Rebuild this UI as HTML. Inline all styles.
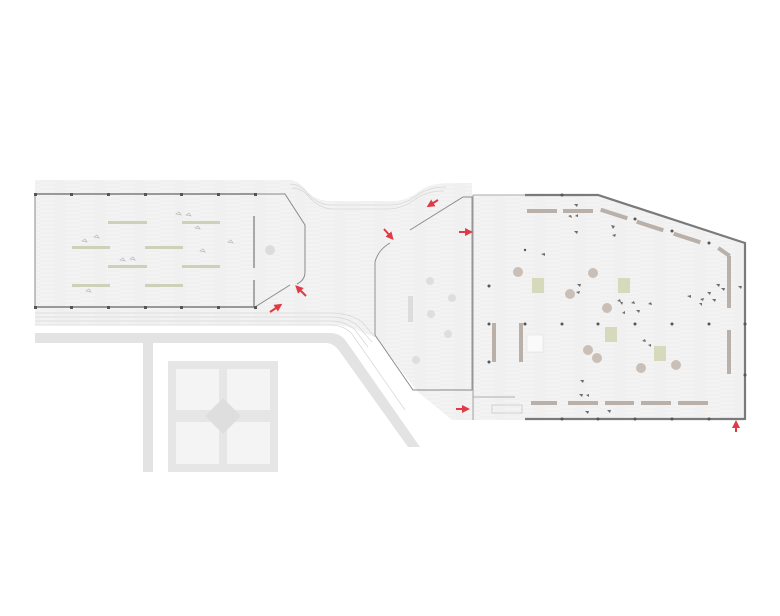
<!DOCTYPE html>
<html><head><meta charset="utf-8"><style>html,body{margin:0;padding:0;background:#fff}svg{display:block}</style></head>
<body>
<svg width="780" height="616" viewBox="0 0 780 616" xmlns="http://www.w3.org/2000/svg">
<defs>
<pattern id="tx" width="40" height="4" patternUnits="userSpaceOnUse">
<rect width="40" height="4" fill="#f3f3f3"/><line x1="0" y1="1" x2="25" y2="1" stroke="#e6e6e6" stroke-width="0.6"/><line x1="15" y1="3" x2="40" y2="3" stroke="#e9e9e9" stroke-width="0.6"/>
</pattern>
<marker id="ah" viewBox="0 0 10 10" refX="5" refY="5" markerWidth="4" markerHeight="4" orient="auto"><path d="M0,0L10,5L0,10z" fill="#e03a46"/></marker>
</defs>
<!-- road -->
<path d="M35,333 H330 Q340,333 346,341 L420,447 H408 L340,352 Q334,343 326,343 H153 V472 H143 V343 H35Z" fill="#e3e3e3"/>
<!-- block -->
<rect x="168" y="361" width="110" height="111" fill="#e6e6e6"/>
<g fill="#f4f4f4">
<rect x="176" y="369" width="43" height="41"/><rect x="227" y="369" width="43" height="41"/>
<rect x="176" y="422" width="43" height="42"/><rect x="227" y="422" width="43" height="42"/>
</g>
<path d="M223 398 L241 416 L223 434 L205 416Z" fill="#dedede"/>
<!-- paving -->
<path d="M35,180 H288 Q298,180 306,190 Q316,201 330,201 H392 Q406,201 418,192 Q430,183 448,183 H472 V420 H452 L418,392 L375,337 L352,328 L340,325 H35Z" fill="url(#tx)"/>
<g fill="none" stroke="#d6d6d6" stroke-width="0.7">
<path d="M290,184 Q300,184 308,194 Q318,205 332,205 H390 Q404,205 416,196 Q428,187 446,187"/>
<path d="M292,188 Q302,188 310,198 Q320,209 334,209 H388 Q402,209 414,200 Q426,191 444,191"/>
<path d="M35,313 H330 Q350,313 362,322 L375,337"/>
<path d="M35,317 H330 Q348,317 358,326 L372,342"/>
<path d="M35,321 H330 Q346,321 355,330 L368,347"/>
<path d="M35,325 H330 Q344,325 352,334 L405,410"/>
</g>
<!-- left building -->
<path d="M35,194 H285 L305,225 V272 Q305,280 297,284 L290,285 L255,307 H35Z" fill="url(#tx)"/>
<path d="M35,194 V307 M255,194 H285 L305,225 V272 Q305,280 297,284 M290,285 L255,307" fill="none" stroke="#8a8a8a" stroke-width="1"/>
<line x1="35" y1="194" x2="255" y2="194" stroke="#999" stroke-width="2"/>
<line x1="35" y1="307" x2="255" y2="307" stroke="#999" stroke-width="2"/>
<g fill="#555">
<rect x="34" y="193" width="3" height="3"/><rect x="70" y="193" width="3" height="3"/><rect x="107" y="193" width="3" height="3"/><rect x="144" y="193" width="3" height="3"/><rect x="180" y="193" width="3" height="3"/><rect x="217" y="193" width="3" height="3"/><rect x="254" y="193" width="3" height="3"/>
<rect x="34" y="306" width="3" height="3"/><rect x="70" y="306" width="3" height="3"/><rect x="107" y="306" width="3" height="3"/><rect x="144" y="306" width="3" height="3"/><rect x="180" y="306" width="3" height="3"/><rect x="217" y="306" width="3" height="3"/><rect x="254" y="306" width="3" height="3"/>
</g>
<line x1="254" y1="216" x2="254" y2="268" stroke="#777" stroke-width="1.2"/>
<line x1="254" y1="280" x2="254" y2="307" stroke="#777" stroke-width="1.2"/>
<circle cx="270" cy="250" r="5" fill="#dcdcdc"/>
<g fill="#cfd0b8">
<rect x="108" y="221" width="39" height="3"/><rect x="182" y="221" width="38" height="3"/>
<rect x="72" y="246" width="38" height="3"/><rect x="145" y="246" width="38" height="3"/>
<rect x="108" y="265" width="39" height="3"/><rect x="182" y="265" width="38" height="3"/>
<rect x="72" y="284" width="38" height="3"/><rect x="145" y="284" width="38" height="3"/>
</g>
<g fill="none" stroke="#bbb" stroke-width="0.7">
<path d="M176,214 l3,-2 l2,3z"/><path d="M186,215 l3,-2 l2,3z"/><path d="M94,237 l3,-2 l2,3z"/><path d="M82,241 l3,-2 l2,3z"/><path d="M195,228 l3,-2 l2,3z"/><path d="M228,242 l3,-2 l2,3z"/><path d="M120,260 l3,-2 l2,3z"/><path d="M130,259 l3,-2 l2,3z"/><path d="M86,291 l3,-2 l2,3z"/><path d="M200,251 l3,-2 l2,3z"/>
</g>
<!-- middle pavilion -->
<path d="M410,230 L463,197 H472 V390 H413 L375,335 V262 Q378,250 390,243" fill="none" stroke="#888" stroke-width="0.9"/>
<g fill="#dedede"><circle cx="430" cy="281" r="4"/><circle cx="452" cy="298" r="4"/><circle cx="431" cy="314" r="4"/><circle cx="448" cy="334" r="4"/><circle cx="416" cy="360" r="4"/></g>
<rect x="408" y="296" width="5" height="26" fill="#dcdcdc"/>
<!-- right hall -->
<path d="M473,195 H598 L745,243 V420 H473Z" fill="url(#tx)"/>
<line x1="473" y1="195" x2="473" y2="420" stroke="#999" stroke-width="1"/>
<path d="M525,195 H598 L745,243 V420 M525,419 H745" fill="none" stroke="#7a7a7a" stroke-width="2.2"/>
<line x1="473" y1="195" x2="525" y2="195" stroke="#aaa" stroke-width="1"/>
<line x1="473" y1="397" x2="515" y2="397" stroke="#999" stroke-width="0.8"/>
<rect x="492" y="405" width="30" height="8" fill="none" stroke="#bbb" stroke-width="0.6"/>
<g fill="#555">
<circle cx="489" cy="324" r="1.5"/><circle cx="525" cy="324" r="1.5"/><circle cx="562" cy="324" r="1.5"/><circle cx="598" cy="324" r="1.5"/><circle cx="635" cy="324" r="1.5"/><circle cx="672" cy="324" r="1.5"/><circle cx="709" cy="324" r="1.5"/><circle cx="745" cy="324" r="1.5"/>
<circle cx="489" cy="286" r="1.5"/><circle cx="525" cy="250" r="1.2"/><circle cx="489" cy="362" r="1.5"/>
<circle cx="562" cy="195" r="1.5"/><circle cx="635" cy="219" r="1.5"/><circle cx="672" cy="231" r="1.5"/><circle cx="709" cy="243" r="1.5"/>
<circle cx="562" cy="419" r="1.5"/><circle cx="598" cy="419" r="1.5"/><circle cx="635" cy="419" r="1.5"/><circle cx="672" cy="419" r="1.5"/><circle cx="709" cy="419" r="1.5"/><circle cx="745" cy="375" r="1.5"/>
</g>
<g fill="#b9b0a9">
<rect x="527" y="209" width="30" height="4"/><rect x="563" y="209" width="30" height="4"/>
<rect x="600" y="212" width="28" height="4" transform="rotate(18 614 214)"/>
<rect x="636" y="224" width="28" height="4" transform="rotate(18 650 226)"/>
<rect x="673" y="236" width="28" height="4" transform="rotate(18 687 238)"/>
<rect x="717" y="250" width="14" height="4" transform="rotate(35 724 252)"/>
<rect x="727" y="256" width="4" height="52"/><rect x="727" y="330" width="4" height="44"/>
<rect x="531" y="401" width="26" height="4"/><rect x="568" y="401" width="30" height="4"/><rect x="605" y="401" width="29" height="4"/><rect x="641" y="401" width="30" height="4"/><rect x="678" y="401" width="30" height="4"/>
<rect x="492" y="323" width="4" height="39"/><rect x="519" y="323" width="4" height="39"/>
</g>
<rect x="527" y="335" width="16" height="17" fill="#fafafa" stroke="#ddd" stroke-width="0.5"/>
<g fill="#c9bfb6">
<circle cx="518" cy="272" r="5"/><circle cx="593" cy="273" r="5"/><circle cx="570" cy="294" r="5"/><circle cx="607" cy="308" r="5"/><circle cx="588" cy="350" r="5"/><circle cx="597" cy="358" r="5"/><circle cx="641" cy="368" r="5"/><circle cx="676" cy="365" r="5"/>
</g>
<g fill="#d7d9bd">
<rect x="532" y="278" width="12" height="15"/><rect x="618" y="278" width="12" height="15"/><rect x="605" y="327" width="12" height="15"/><rect x="654" y="346" width="12" height="15"/>
</g>
<g fill="#6d6d6d">
<path d="M574,204 l4,0 l-1,3z"/><path d="M568,216 l3,-1 l1,3z"/><path d="M575,216 l3,-2 l0,3z"/><path d="M574,231 l4,0 l-1,3z"/><path d="M611,225 l4,1 l-2,3z"/><path d="M612,235 l4,-1 l-1,3z"/>
<path d="M541,254 l4,-1 l0,3z"/><path d="M577,284 l4,0 l-1,3z"/><path d="M576,292 l4,-1 l-1,3z"/>
<path d="M617,301 l3,-2 l1,3z"/><path d="M631,303 l3,-2 l1,3z"/><path d="M648,304 l3,-2 l1,3z"/><path d="M636,310 l4,0 l-1,3z"/><path d="M622,313 l3,-2 l0,3z"/><path d="M620,302 l3,0 l-1,3z"/>
<path d="M700,299 l4,-1 l-1,3z"/><path d="M707,292 l4,0 l-1,3z"/><path d="M716,284 l4,0 l-1,3z"/><path d="M721,288 l4,0 l-1,3z"/><path d="M712,299 l4,0 l-1,3z"/><path d="M699,303 l3,0 l0,3z"/><path d="M738,286 l4,0 l-1,3z"/>
<path d="M642,341 l3,-2 l1,3z"/><path d="M648,345 l3,-1 l0,3z"/>
<path d="M580,380 l4,0 l-1,3z"/><path d="M579,394 l4,0 l-1,3z"/><path d="M586,395 l3,-1 l0,3z"/><path d="M585,411 l4,0 l-1,3z"/><path d="M607,410 l4,0 l-1,3z"/>
<path d="M687,296 l4,-1 l0,3z"/>
</g>
<!-- arrows -->
<g stroke="#e03a46" stroke-width="2" marker-end="url(#ah)">
<line x1="306" y1="296" x2="298" y2="288"/>
<line x1="270" y1="312" x2="279" y2="306"/>
<line x1="384" y1="229" x2="391" y2="237"/>
<line x1="438" y1="200" x2="430" y2="205"/>
<line x1="459" y1="232" x2="469" y2="232"/>
<line x1="456" y1="409" x2="466" y2="409"/>
<line x1="736" y1="432" x2="736" y2="424"/>
</g>
</svg>
</body></html>
